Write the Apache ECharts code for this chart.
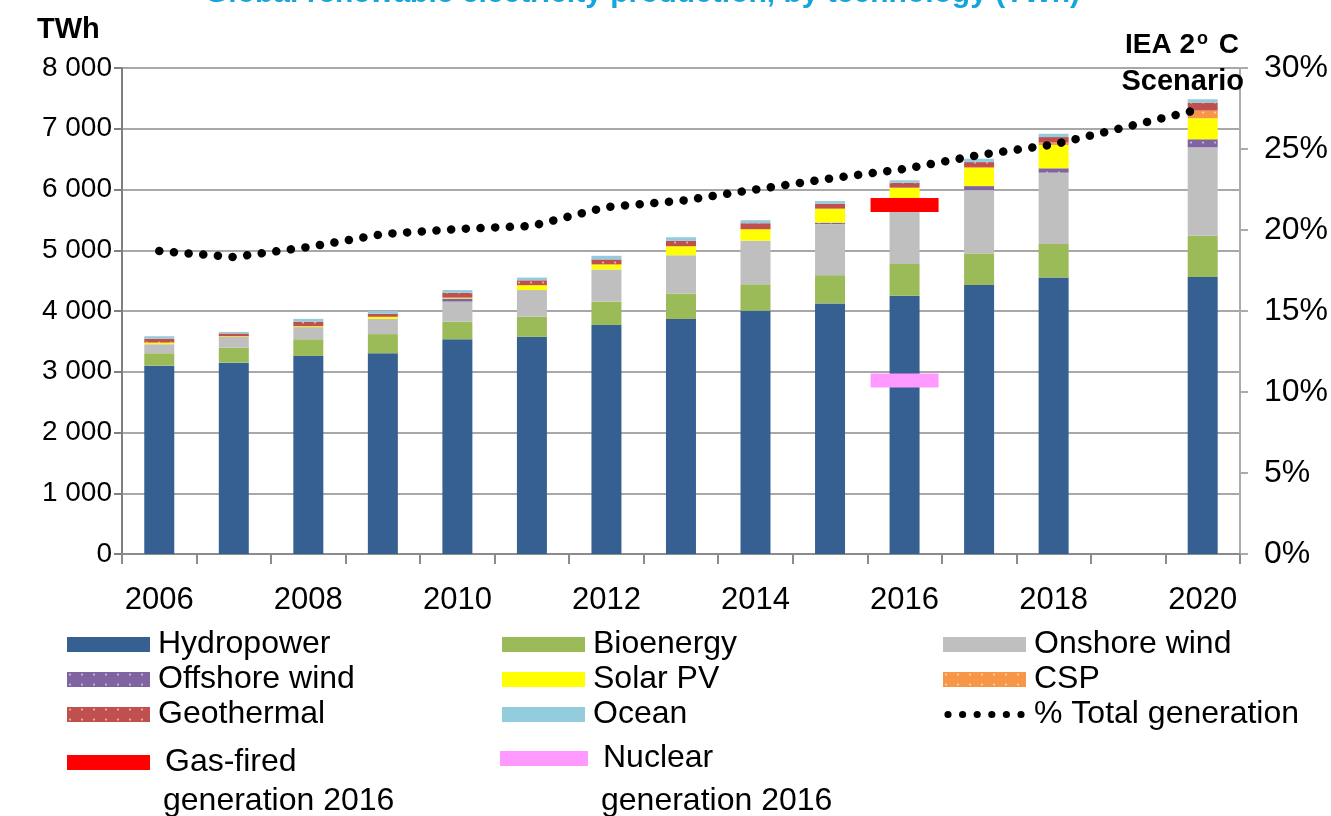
<!DOCTYPE html>
<html>
<head>
<meta charset="utf-8">
<script src="https://cdn.jsdelivr.net/npm/echarts@6/dist/echarts.min.js"></script>
<style>
  html, body { margin: 0; padding: 0; background: #fff; }
  #chart { width: 1331px; height: 816px; }
</style>
</head>
<body>
<div id="chart"></div>
<script>
// values (TWh), 2019 has no bar
const years = ['2006', '2007', '2008', '2009', '2010', '2011', '2012', '2013', '2014', '2015', '2016', '2017', '2018', '2019', '2020'];
const hydropower = [3100, 3150, 3260, 3305, 3535, 3575, 3770, 3868, 4005, 4125, 4250, 4428, 4550, null, 4560];
const bioenergy = [205, 245, 275, 315, 290, 330, 385, 420, 435, 465, 525, 520, 553, null, 680];
const onshoreWind = [148, 180, 200, 250, 330, 440, 530, 630, 718, 840, 1065, 1042, 1174, null, 1455];
const offshoreWind = [0, 0, 0, 0, 50, 0, 0, 0, 0, 25, 20, 66, 72, null, 132];
const solarPV = [27, 10, 15, 35, 15, 80, 82, 148, 188, 230, 170, 300, 384, null, 346];
const csp = [0, 0, 0, 0, 0, 0, 0, 0, 0, 0, 0, 15, 40, null, 126];
const geothermal = [65, 45, 75, 50, 80, 80, 82, 88, 99, 80, 82, 80, 90, null, 132];
const ocean = [40, 25, 45, 45, 45, 45, 60, 60, 50, 45, 40, 55, 55, null, 55];
// % of total generation (right axis)
const shareOfTotal = [18.7, 18.33, 18.95, 19.75, 20.06, 20.25, 21.42, 21.8, 22.5, 23.18, 23.77, 24.63, 25.28, null, 27.5];
const gasFired2016 = 5745;
const nuclear2016 = 2856;
const leftTicks = { min: 0, max: 8000, interval: 1000 };
const rightTicks = { min: 0, max: 30, interval: 5 };

const font = '"Liberation Sans", Arial, sans-serif';
const dots = (color) => ({
  symbol: 'circle',
  symbolSize: 0.45,
  color: color,
  dashArrayX: 6,
  dashArrayY: 5,
  rotation: 0
});

// legend icon for the dotted line: six round dots in an 83x15 box
let dotIcon = 'path://M0 0L0 0.01M83 15L83 14.99';
for (let i = 0; i < 6; i++) {
  const cx = 5 + i * 14.6;
  dotIcon += 'M' + (cx - 3.6) + ' 7.5a3.6 3.6 0 1 0 7.2 0a3.6 3.6 0 1 0 -7.2 0Z';
}

const barSeries = (name, data, color, decal) => ({
  name: name,
  type: 'bar',
  stack: 'total',
  barWidth: 30,
  data: data,
  itemStyle: decal ? { color: color, decal: decal } : { color: color }
});

const legendText = { fontSize: 32, lineHeight: 35, color: '#000', padding: [0, 0, 0, 3] };

const myChart = echarts.init(document.getElementById('chart'));
myChart.setOption({
  animation: false,
  textStyle: { fontFamily: font },
  grid: { left: 122, right: 91, top: 68, bottom: 262 },
  legend: [
    {
      orient: 'vertical', left: 67, top: 627, padding: 0, itemGap: 0,
      itemWidth: 83, itemHeight: 15, icon: 'rect', textStyle: legendText,
      data: ['Hydropower', 'Offshore wind', 'Geothermal']
    },
    {
      orient: 'vertical', left: 502, top: 627, padding: 0, itemGap: 0,
      itemWidth: 83, itemHeight: 15, icon: 'rect', textStyle: legendText,
      data: ['Bioenergy', 'Solar PV', 'Ocean']
    },
    {
      orient: 'vertical', left: 943, top: 627, padding: 0, itemGap: 0,
      itemWidth: 83, itemHeight: 15, textStyle: legendText,
      data: [
        { name: 'Onshore wind', icon: 'rect' },
        { name: 'CSP', icon: 'rect' },
        { name: '% Total generation', icon: dotIcon }
      ]
    },
    {
      left: 67, top: 745, padding: 0, itemWidth: 83, itemHeight: 15, icon: 'rect',
      textStyle: { fontSize: 32, lineHeight: 35, color: '#000', padding: [0, 0, 0, 10] },
      formatter: () => 'Gas-fired',
      data: ['Gas-fired generation 2016']
    },
    {
      left: 500, top: 741, padding: 0, itemWidth: 88, itemHeight: 15, icon: 'rect',
      textStyle: { fontSize: 32, lineHeight: 35, color: '#000', padding: [0, 0, 0, 10] },
      formatter: () => 'Nuclear',
      data: ['Nuclear generation 2016']
    }
  ],
  xAxis: {
    type: 'category',
    data: years,
    axisLine: { lineStyle: { color: '#8c8c8c', width: 2 } },
    axisTick: { show: true, interval: 0, length: 10, lineStyle: { color: '#8c8c8c', width: 2 } },
    axisLabel: { interval: 1, margin: 31, fontSize: 31, color: '#000' }
  },
  yAxis: [
    {
      type: 'value',
      min: leftTicks.min, max: leftTicks.max, interval: leftTicks.interval,
      axisLine: { show: true, lineStyle: { color: '#7f7f7f', width: 2 } },
      axisTick: { show: true, length: 8, lineStyle: { color: '#7f7f7f', width: 2 } },
      axisLabel: {
        margin: 10, fontSize: 28, color: '#000',
        formatter: (v) => v >= 1000 ? Math.floor(v / 1000) + ' ' + String(v % 1000).padStart(3, '0') : String(v)
      },
      splitLine: { lineStyle: { color: '#a8a8a8', width: 2 } }
    },
    {
      type: 'value',
      position: 'right',
      min: rightTicks.min, max: rightTicks.max, interval: rightTicks.interval,
      axisLine: { show: true, lineStyle: { color: '#ababab', width: 2 } },
      axisTick: { show: true, length: 8, lineStyle: { color: '#ababab', width: 2 } },
      axisLabel: { margin: 24, fontSize: 32, color: '#000', formatter: '{value}%' },
      splitLine: { show: false }
    }
  ],
  series: [
    barSeries('Hydropower', hydropower, '#376092'),
    barSeries('Bioenergy', bioenergy, '#9bbb59'),
    barSeries('Onshore wind', onshoreWind, '#bfbfbf'),
    barSeries('Offshore wind', offshoreWind, '#8064a2', dots('rgba(255,255,255,0.55)')),
    barSeries('Solar PV', solarPV, '#ffff00'),
    barSeries('CSP', csp, '#f79646', dots('rgba(255,255,255,0.55)')),
    barSeries('Geothermal', geothermal, '#c0504d', dots('rgba(255,255,255,0.55)')),
    barSeries('Ocean', ocean, '#93cddd'),
    {
      name: '% Total generation',
      type: 'line',
      yAxisIndex: 1,
      data: shareOfTotal,
      connectNulls: true,
      symbol: 'none',
      z: 5,
      itemStyle: { color: '#000' },
      lineStyle: { color: '#000', width: 8.5, type: [0.1, 14.6], cap: 'round' }
    },
    {
      name: 'Gas-fired generation 2016',
      type: 'scatter',
      data: [['2016', gasFired2016]],
      symbol: 'rect',
      symbolSize: [68, 14],
      z: 6,
      itemStyle: { color: '#ff0000', opacity: 1 }
    },
    {
      name: 'Nuclear generation 2016',
      type: 'scatter',
      data: [['2016', nuclear2016]],
      symbol: 'rect',
      symbolSize: [68, 14],
      z: 6,
      itemStyle: { color: '#ff99ff', opacity: 1 }
    }
  ],
  graphic: [
    {
      type: 'text', left: 205, top: -21, z: 100,
      style: { text: 'Global renewable electricity production, by technology (TWh)', fontSize: 30, fontWeight: 'bold', fill: '#14a5dc', fontFamily: font }
    },
    {
      type: 'text', left: 37, top: 15, z: 100,
      style: { text: 'TWh', fontSize: 29, fontWeight: 'bold', fill: '#000', fontFamily: font }
    },
    {
      type: 'text', right: 92, top: 30, z: 100,
      style: {
        text: 'IEA 2{sup|o} C', fontSize: 28, fontWeight: 'bold', fill: '#000', fontFamily: font,
        rich: { sup: { fontSize: 18, fontWeight: 'bold', verticalAlign: 'top', padding: [0, 3, 12, 2] } }
      }
    },
    {
      type: 'text', right: 87, top: 67, z: 100,
      style: { text: 'Scenario', fontSize: 29, fontWeight: 'bold', fill: '#000', fontFamily: font }
    },
    {
      type: 'text', left: 163, top: 785,
      style: { text: 'generation 2016', fontSize: 32, fill: '#000', fontFamily: font }
    },
    {
      type: 'text', left: 601, top: 785,
      style: { text: 'generation 2016', fontSize: 32, fill: '#000', fontFamily: font }
    }
  ]
});
</script>
</body>
</html>
